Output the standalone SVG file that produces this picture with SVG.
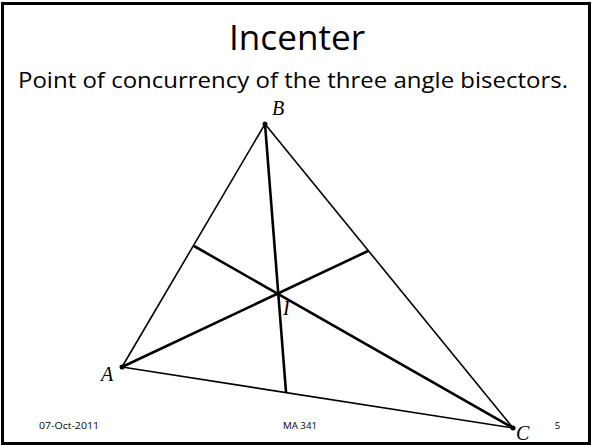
<svg xmlns="http://www.w3.org/2000/svg" width="592" height="445" viewBox="0 0 592 445">
<style>
.frame{fill:#fff;stroke:#000;stroke-width:3}
.title{font-family:"Open Sans","Liberation Sans",sans-serif;font-size:34px;fill:#000}
.sub{font-family:"Open Sans","Liberation Sans",sans-serif;font-size:21px;fill:#000}
.lbl{font-family:"Liberation Serif",serif;font-style:italic;font-size:20px;fill:#000}
.foot{font-family:"Open Sans","Liberation Sans",sans-serif;font-size:9.5px;fill:#000}
.side{stroke:#000;stroke-width:1.6;fill:none}
.bis{stroke:#000;stroke-width:2.6;fill:none}
.dot{fill:#000}
</style>
<rect class="frame" x="2.5" y="3.5" width="587" height="440"/>
<text class="title" x="297" y="50" text-anchor="middle" textLength="136" lengthAdjust="spacingAndGlyphs">Incenter</text>
<text class="sub" x="18" y="88" textLength="550" lengthAdjust="spacingAndGlyphs">Point of concurrency of the three angle bisectors.</text>
<g id="connectors">
<line class="side" x1="122" y1="367" x2="265" y2="124"/>
<line class="side" x1="265" y1="124" x2="513" y2="428"/>
<line class="side" x1="122" y1="367" x2="513" y2="428"/>
<line class="bis" x1="265" y1="124" x2="286" y2="392"/>
<line class="bis" x1="122" y1="367" x2="368" y2="251"/>
<line class="bis" x1="513" y1="428" x2="194" y2="246"/>
</g>
<g id="node-A"><circle class="dot" cx="122" cy="367" r="2.5"/><text class="lbl" x="101" y="381">A</text></g>
<g id="node-B"><circle class="dot" cx="265" cy="124" r="2.5"/><text class="lbl" x="272" y="115">B</text></g>
<g id="node-C"><circle class="dot" cx="513" cy="428" r="2.5"/><text class="lbl" x="516" y="440" font-size="19">C</text></g>
<g id="node-I"><text class="lbl" x="283" y="315">I</text></g>
<text class="foot" x="39" y="429" textLength="60" lengthAdjust="spacingAndGlyphs">07-Oct-2011</text>
<text class="foot" x="300" y="429" text-anchor="middle" textLength="34" lengthAdjust="spacingAndGlyphs">MA 341</text>
<text class="foot" x="557.5" y="429" text-anchor="middle">5</text>
</svg>
